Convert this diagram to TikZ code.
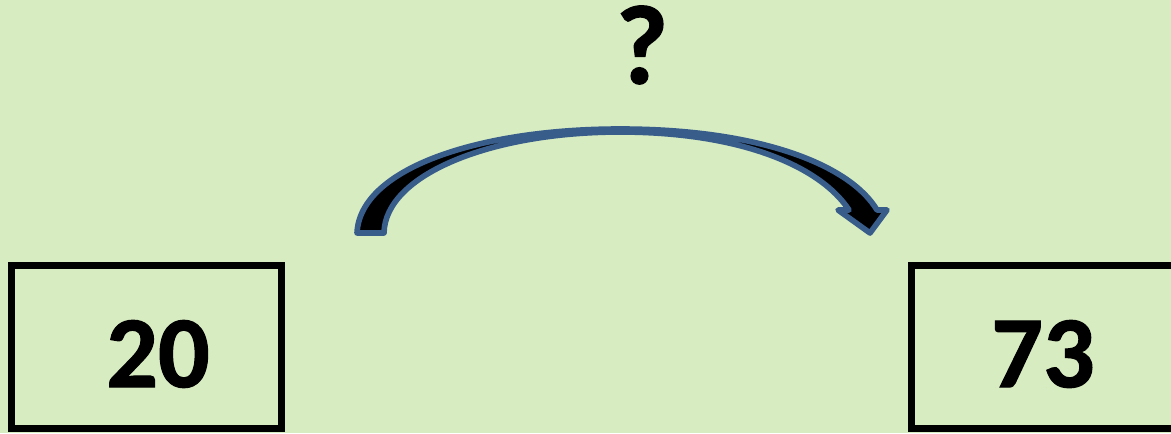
\documentclass[tikz,border=0pt]{standalone}
\usepackage{fontspec}
\setmainfont{Carlito}[BoldFeatures={FakeBold=1.2}]
\usepackage{tikz}
\usetikzlibrary{positioning}
\definecolor{fond}{RGB}{216,236,194}
\definecolor{contour}{HTML}{385D8A}

\begin{document}
\begin{tikzpicture}[x=0.01cm,y=-0.01cm,boite/.style={draw,line width=2.2pt,minimum width=2.7cm,minimum height=1.63cm,inner sep=0pt},nombre/.style={font=\fontsize{29}{34}\selectfont\bfseries},fleche/.style={fill=black,draw=contour,line width=1.6pt,line join=round}]
\fill[fond] (0,0) rectangle (1171,433);
\useasboundingbox (0,0) rectangle (1171,433);
\node[boite] (depart) at (146.5,347) {};
\node[boite] (arrivee) at (1046.5,347) {};
\node[nombre] (vingt) at (158,354) {20};
\node[nombre] (soixantetreize) at (1043,354) {73};
\node[nombre,font=\fontsize{32}{36}\selectfont\bfseries] (question) at (642,45) {?};
\coordinate (queue) at (357,233);
\coordinate (pointe) at (870,233);
\draw[fleche] (queue) .. controls (360,168) and (480,129) .. (620,129) .. controls (760,129) and (850,165) .. (877,210) -- (887,210) -- (pointe) -- (838,210) -- (849,210) .. controls (820,166) and (740,132) .. (620,132) .. controls (490,132) and (385,175) .. (384,233) -- cycle;
\end{tikzpicture}
\end{document}
